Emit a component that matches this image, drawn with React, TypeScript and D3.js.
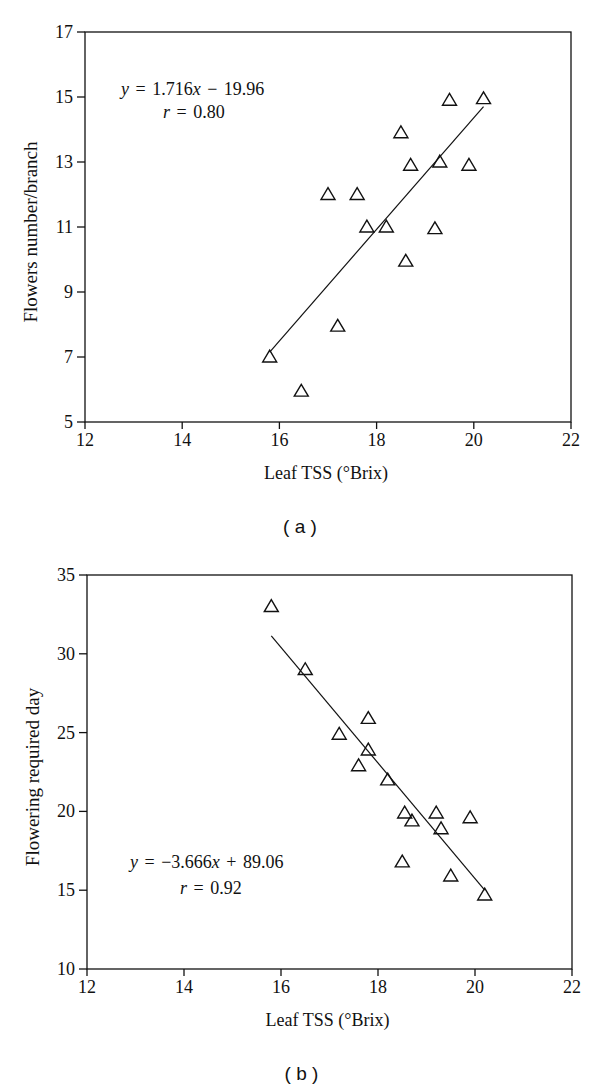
import React from "react";
import * as d3 from "d3";

// panel (a): leaf TSS vs flowers number per branch
const tssA = [15.8, 16.45, 17.0, 17.2, 17.6, 17.8, 18.2, 18.5, 18.6, 18.7, 19.2, 19.3, 19.5, 19.9, 20.2];
const flowersA = [7.0, 5.95, 12.0, 7.95, 12.0, 11.0, 11.0, 13.9, 9.95, 12.9, 10.95, 13.0, 14.9, 12.9, 14.95];

// panel (b): leaf TSS vs flowering required day
const tssB = [15.8, 16.5, 17.2, 17.6, 17.8, 17.8, 18.2, 18.5, 18.55, 18.7, 19.2, 19.3, 19.5, 19.9, 20.2];
const daysB = [33.0, 29.0, 24.9, 22.9, 25.9, 23.9, 22.0, 16.8, 19.9, 19.4, 19.9, 18.9, 15.9, 19.6, 14.7];

const xTicks = [12, 14, 16, 18, 20, 22];
const yTicksA = [5, 7, 9, 11, 13, 15, 17];
const yTicksB = [10, 15, 20, 25, 30, 35];

const fitA = { slope: 1.716, intercept: -19.96, from: 15.8, to: 20.2 };
const fitB = { slope: -3.666, intercept: 89.06, from: 15.8, to: 20.2 };

const serif = "'Liberation Serif', 'Times New Roman', serif";

type PanelProps = {
  xs: number[];
  ys: number[];
  yTicks: number[];
  fit: { slope: number; intercept: number; from: number; to: number };
  top: number;
  bottom: number;
  left: number;
  right: number;
  yTitle: string;
  caption: string;
  eq: React.ReactNode;
};

// open triangle marker, centred on the data point
const tri = "M0,-6.8L7,5L-7,5Z";

const Panel = ({ xs, ys, yTicks, fit, top, bottom, left, right, yTitle, caption, eq }: PanelProps) => {
  const x = d3.scaleLinear().domain([12, 22]).range([left, right]);
  const y = d3.scaleLinear().domain([yTicks[0], yTicks[yTicks.length - 1]]).range([bottom, top]);
  const line = d3
    .line<number>()
    .x((d) => x(d))
    .y((d) => y(fit.slope * d + fit.intercept));
  return (
    <g fontFamily={serif} fill="#111">
      <rect x={left} y={top} width={right - left} height={bottom - top} fill="none" stroke="#111" strokeWidth={1.3} />
      {xTicks.map((t) => (
        <g key={"x" + t}>
          <line x1={x(t)} x2={x(t)} y1={bottom} y2={bottom + 7} stroke="#111" strokeWidth={1.3} />
          <text x={x(t)} y={bottom + 24} textAnchor="middle" fontSize={18}>
            {t}
          </text>
        </g>
      ))}
      {yTicks.map((t) => (
        <g key={"y" + t}>
          <line x1={left - 8} x2={left} y1={y(t)} y2={y(t)} stroke="#111" strokeWidth={1.3} />
          <text x={left - 12} y={y(t)} dy="0.33em" textAnchor="end" fontSize={18}>
            {t}
          </text>
        </g>
      ))}
      <text x={(left + right) / 2 - 2} y={bottom + 57} textAnchor="middle" fontSize={18}>
        Leaf TSS (°Brix)
      </text>
      <text
        transform={`translate(${left - 48},${(top + bottom) / 2 + 5}) rotate(-90)`}
        textAnchor="middle"
        fontSize={19}
      >
        {yTitle}
      </text>
      <text
        x={(left + right) / 2 - 28}
        y={bottom + 111}
        textAnchor="middle"
        fontSize={19}
        fontFamily="'Liberation Sans', Arial, sans-serif"
      >
        {caption}
      </text>
      <path d={line([fit.from, fit.to]) || ""} fill="none" stroke="#111" strokeWidth={1.2} />
      {xs.map((v, i) => (
        <path
          key={i}
          d={tri}
          transform={`translate(${x(v)},${y(ys[i])})`}
          fill="none"
          stroke="#111"
          strokeWidth={1.4}
        />
      ))}
      {eq}
    </g>
  );
};

export default function App() {
  return (
    <svg width={600} height={1090} style={{ position: "absolute", left: 0, top: 0, background: "#fff" }}>
      <Panel
        xs={tssA}
        ys={flowersA}
        yTicks={yTicksA}
        fit={fitA}
        top={32}
        bottom={422}
        left={85}
        right={571}
        yTitle="Flowers number/branch"
        caption="( a )"
        eq={
          <g fontSize={18} wordSpacing={2}>
            <text x={121} y={95}>
              <tspan fontStyle="italic">y</tspan> = 1.716<tspan fontStyle="italic">x</tspan> − 19.96
            </text>
            <text x={163} y={118}>
              <tspan fontStyle="italic">r</tspan> = 0.80
            </text>
          </g>
        }
      />
      <Panel
        xs={tssB}
        ys={daysB}
        yTicks={yTicksB}
        fit={fitB}
        top={575}
        bottom={969}
        left={87}
        right={572}
        yTitle="Flowering required day"
        caption="( b )"
        eq={
          <g fontSize={18} wordSpacing={2}>
            <text x={130} y={868}>
              <tspan fontStyle="italic">y</tspan> = −3.666<tspan fontStyle="italic">x</tspan> + 89.06
            </text>
            <text x={180} y={894}>
              <tspan fontStyle="italic">r</tspan> = 0.92
            </text>
          </g>
        }
      />
    </svg>
  );
}
